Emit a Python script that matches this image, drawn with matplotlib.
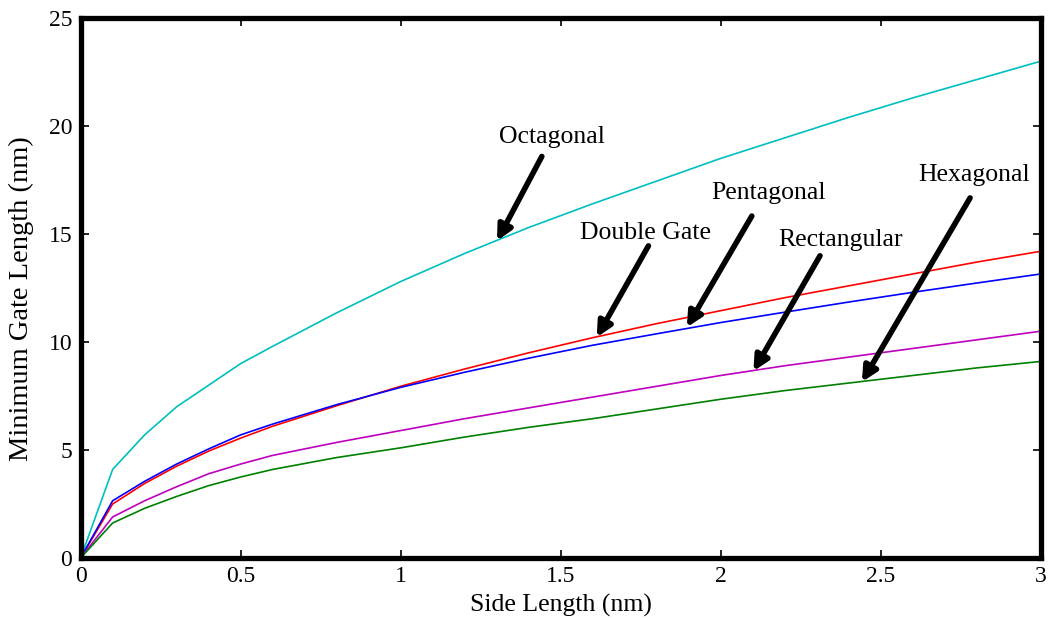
import matplotlib
matplotlib.use("Agg")
import matplotlib.pyplot as plt

plt.rcParams['font.family'] = ['Liberation Serif', 'DejaVu Serif']

# side length (nm)
side = [0, 0.1, 0.2, 0.3, 0.4, 0.5, 0.6, 0.8, 1.0, 1.2, 1.4, 1.6, 1.8,
        2.0, 2.2, 2.4, 2.6, 2.8, 3.0]

# minimum gate length (nm) for each cross section
octagonal = [0, 4.1, 5.7, 7.0, 8.0, 9.0, 9.8, 11.35, 12.8, 14.1, 15.3, 16.4,
             17.45, 18.5, 19.45, 20.4, 21.3, 22.15, 23.0]
red_curve = [0, 2.5, 3.45, 4.25, 4.95, 5.55, 6.1, 7.05, 7.95, 8.75, 9.5,
             10.2, 10.85, 11.45, 12.05, 12.6, 13.15, 13.7, 14.2]
blue_curve = [0, 2.65, 3.55, 4.35, 5.05, 5.7, 6.2, 7.1, 7.9, 8.6, 9.25,
              9.85, 10.38, 10.9, 11.38, 11.85, 12.3, 12.73, 13.15]
rectangular = [0, 1.9, 2.65, 3.3, 3.9, 4.35, 4.75, 5.35, 5.9, 6.45, 6.95,
               7.45, 7.95, 8.45, 8.9, 9.3, 9.7, 10.1, 10.5]
hexagonal = [0, 1.62, 2.3, 2.85, 3.35, 3.75, 4.1, 4.65, 5.1, 5.6, 6.05,
             6.45, 6.9, 7.35, 7.75, 8.1, 8.45, 8.8, 9.1]

# etiquetas: texto, posicion del texto, cola y punta de la flecha
etiquetas = ["Octagonal", "Double Gate", "Pentagonal", "Rectangular", "Hexagonal"]
pos_texto = [(1.473, 19.5), (1.766, 15.05), (2.149, 16.9), (2.373, 14.72), (2.791, 17.72)]
colas = [(1.441, 18.59), (1.774, 14.45), (2.097, 15.83), (2.31, 13.99), (2.779, 16.67)]
puntas = [(1.301, 14.68), (1.6125, 10.22), (1.894, 10.68), (2.102, 8.65), (2.441, 8.15)]

fig = plt.figure(figsize=(10.54, 6.2), dpi=100)
ax = fig.add_axes([0.0765, 0.1, 0.911, 0.871])

ax.plot(side, octagonal, color='c', lw=1.2)
ax.plot(side, red_curve, color='r', lw=1.2)
ax.plot(side, blue_curve, color='b', lw=1.2)
ax.plot(side, rectangular, color='m', lw=1.2)
ax.plot(side, hexagonal, color='g', lw=1.2)

for txt, p, c, t in zip(etiquetas, pos_texto, colas, puntas):
    ax.text(p[0], p[1], txt, ha='center', va='center', fontsize=18.5)
    ax.annotate("", xy=t, xytext=c,
                arrowprops=dict(arrowstyle="-|>", color='black', lw=4,
                                mutation_scale=22, shrinkA=0, shrinkB=0))

ax.set_xlim(0, 3)
ax.set_ylim(0, 25)
ax.set_xticks([0, 0.5, 1, 1.5, 2, 2.5, 3])
ax.set_xticklabels(["0", "0.5", "1", "1.5", "2", "2.5", "3"])
ax.set_yticks([0, 5, 10, 15, 20, 25])

for s in ax.spines.values():
    s.set_linewidth(3.8)
ax.tick_params(direction='in', length=6, width=1.2, top=True, right=True,
               labelsize=17, pad=6)

ax.set_xlabel("Side Length (nm)", fontsize=18.5, labelpad=5)
ax.set_ylabel("Minimum Gate Length (nm)", fontsize=20.5)
ax.yaxis.set_label_coords(-0.049, 0.481)

fig.savefig("out.png", dpi=100)
